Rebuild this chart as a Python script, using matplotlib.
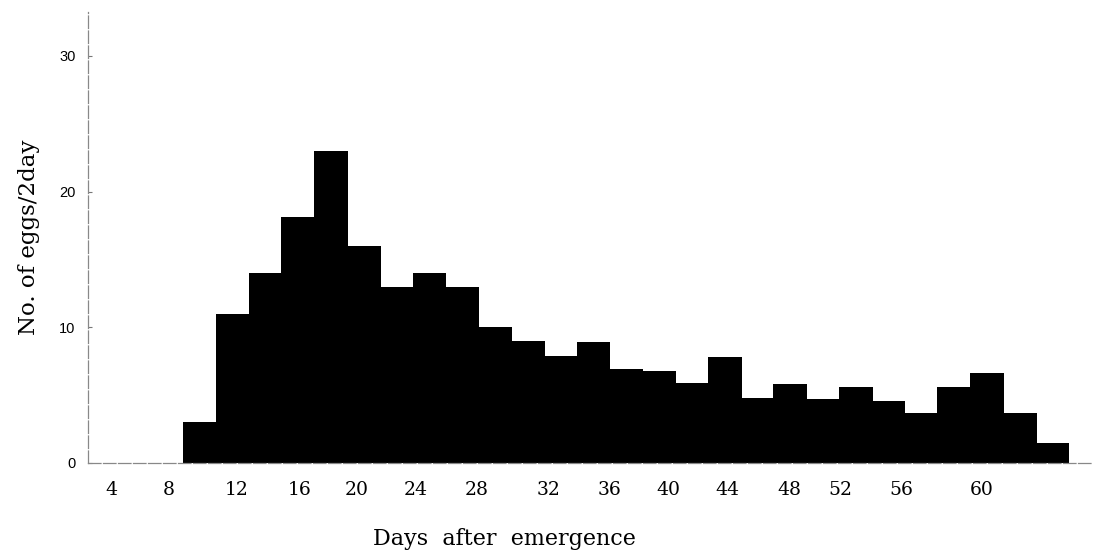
import numpy as np
import matplotlib
matplotlib.use("Agg")
import matplotlib.pyplot as plt

# 2-day bins, left edge of each bin (days after emergence)
bin_start = np.arange(10, 64, 2)
eggs = [3.0, 11.0, 14.0, 18.1, 23.0, 16.0, 13.0, 14.0, 13.0, 10.0,
        9.0, 7.9, 8.9, 6.9, 6.8, 5.9, 7.8, 4.8, 5.8, 4.7,
        5.6, 4.6, 3.7, 5.6, 6.6, 3.7, 1.5]

tick_labels = ["4", "8", "12", "16", "20", "24", "28", "32", "36",
               "40", "44", "48", "52", "56", "60"]
# where the printed labels sit on the day axis (hand placed in original)
tick_pos = [5.6, 9.1, 13.3, 17.1, 20.6, 24.2, 27.9, 32.3, 36.0,
            39.6, 43.2, 47.0, 50.1, 53.8, 58.7]

serif = "DejaVu Serif"

fig = plt.figure(figsize=(10.93, 5.57), dpi=100)
ax = fig.add_axes([0.0805, 0.1688, 0.9195, 0.809])

ax.bar(bin_start, eggs, width=2, align="edge", color="black",
       edgecolor="black", linewidth=0.5, antialiased=False)

ax.set_xlim(4.2, 65.5)
ax.set_ylim(0, 33.2)

ax.set_xticks(tick_pos)
ax.set_xticklabels(tick_labels, fontsize=13.5, family=serif)
ax.tick_params(axis="x", length=0, pad=13)

ax.set_yticks([0, 10, 20, 30])
ax.set_yticklabels(["0", "10", "20", "30"], fontsize=10.5, family="Liberation Sans")
ax.tick_params(axis="y", length=3, direction="in", color="#777777", pad=9)

for side in ["top", "right"]:
    ax.spines[side].set_visible(False)
for side in ["left", "bottom"]:
    ax.spines[side].set_color("#888888")
    ax.spines[side].set_linewidth(0.9)
    ax.spines[side].set_linestyle((0, (10, 2)))

ax.set_xlabel("Days  after  emergence", fontsize=16, family=serif)
ax.xaxis.set_label_coords(0.414, -0.145)
ax.set_ylabel("No. of eggs/2day", fontsize=16.5, family=serif, labelpad=14)

fig.savefig("out.png", dpi=100)
